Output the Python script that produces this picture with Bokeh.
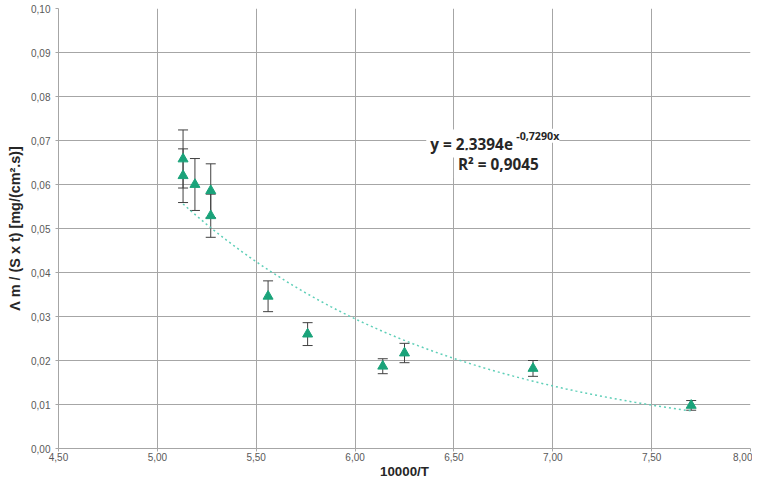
from bokeh.plotting import figure
from bokeh.models import ColumnDataSource, Whisker, CustomJSTickFormatter, FixedTicker, Label, Range1d
from bokeh.embed import file_html
from bokeh.resources import INLINE
import numpy as np

# data
x_vals = [5.13, 5.13, 5.19, 5.27, 5.27, 5.56, 5.76, 6.14, 6.25, 6.90, 7.70]
y_vals = [0.0658, 0.0620, 0.0600, 0.0586, 0.0529, 0.0346, 0.0260, 0.0187, 0.0217, 0.0182, 0.0098]
y_err = [0.0066, 0.0061, 0.0059, 0.0061, 0.0049, 0.0035, 0.0026, 0.0017, 0.0022, 0.0018, 0.0011]

# exponential trend line y = a * exp(b x)
fit_a = 2.3394
fit_b = -0.7290
x_ticks = [4.5, 5.0, 5.5, 6.0, 6.5, 7.0, 7.5, 8.0]
y_ticks = [0.00, 0.01, 0.02, 0.03, 0.04, 0.05, 0.06, 0.07, 0.08, 0.09, 0.10]

p = figure(width=752, height=481, output_backend="svg", toolbar_location=None,
           x_range=Range1d(4.5, 8.0), y_range=Range1d(0.0, 0.10),
           min_border_left=58, min_border_right=2, min_border_top=8, min_border_bottom=30)

p.outline_line_color = None
p.background_fill_color = "white"
p.border_fill_color = "white"

grid_color = "#a6a6a6"
for g in (p.xgrid, p.ygrid):
    g.grid_line_color = grid_color
    g.grid_line_width = 1

p.xaxis.ticker = FixedTicker(ticks=x_ticks)
p.yaxis.ticker = FixedTicker(ticks=y_ticks)
p.xaxis.formatter = CustomJSTickFormatter(code="return tick.toFixed(2).replace('.', ',');")
p.yaxis.formatter = CustomJSTickFormatter(code="return tick.toFixed(2).replace('.', ',');")

for ax in (p.xaxis, p.yaxis):
    ax.axis_line_color = grid_color
    ax.major_tick_line_color = grid_color
    ax.major_tick_out = 3
    ax.major_tick_in = 0
    ax.minor_tick_line_color = None
    ax.major_label_text_font = "Liberation Sans"
    ax.major_label_text_font_size = "7.5pt"
    ax.major_label_text_color = "#595959"
    ax.axis_label_text_font_style = "bold"
    ax.axis_label_text_color = "#262626"

p.xaxis.axis_label = "10000/T"
p.xaxis.axis_label_text_font = "Liberation Sans"
p.xaxis.axis_label_text_font_size = "10pt"
p.xaxis.axis_label_standoff = 0
p.xaxis.major_label_standoff = 1

p.yaxis.axis_label = "Λ m / (S x t) [mg/(cm².s)]"
p.yaxis.axis_label_text_font = "Liberation Sans"
p.yaxis.axis_label_text_font_size = "10.8pt"
p.yaxis.axis_label_standoff = 5
p.yaxis.major_label_standoff = 5

# trend line
xt = np.linspace(min(x_vals), max(x_vals), 200)
yt = fit_a * np.exp(fit_b * xt)
p.line(xt, yt, line_color="#5fcfb8", line_width=1.5, line_dash="2 3")

src = ColumnDataSource(dict(
    x=x_vals, y=y_vals,
    lo=[y - e for y, e in zip(y_vals, y_err)],
    hi=[y + e for y, e in zip(y_vals, y_err)],
))
wh = Whisker(source=src, base="x", lower="lo", upper="hi",
             line_color="#404040", line_width=1)
wh.upper_head.size = 10
wh.lower_head.size = 10
wh.upper_head.line_color = "#404040"
wh.lower_head.line_color = "#404040"
p.add_layout(wh)

p.scatter("x", "y", source=src, marker="triangle", size=10,
          fill_color="#1aa37a", line_color="#1aa37a")

# equation label
eq_font = "Open Sans"
p.add_layout(Label(x=6.36, y=0.0693, text="y = 2,3394e", text_font=eq_font,
                   text_font_style="bold", text_font_size="11.5pt", text_color="#262626",
                   background_fill_color="white", text_baseline="middle",
                   text_align="left", padding=4))
p.add_layout(Label(x=6.815, y=0.0711, text="-0,7290x", text_font=eq_font,
                   text_font_style="bold", text_font_size="8pt", text_color="#262626",
                   background_fill_color="white", text_baseline="middle",
                   text_align="left", padding=0))
p.add_layout(Label(x=6.50, y=0.0646, text="R² = 0,9045", text_font=eq_font,
                   text_font_style="bold", text_font_size="11.5pt", text_color="#262626",
                   background_fill_color="white", text_baseline="middle",
                   text_align="left", padding=4))

open("out.html", "w").write(file_html(p, INLINE))
